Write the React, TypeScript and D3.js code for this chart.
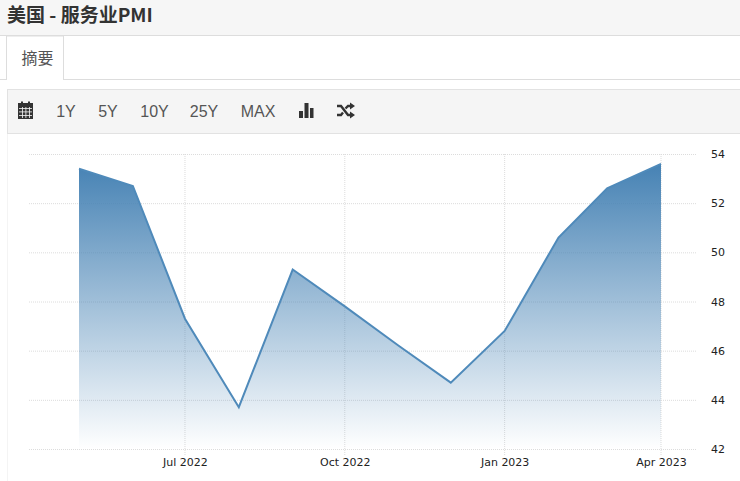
import * as d3 from 'd3';
import {useEffect, useRef} from "react";
import * as React from "react";

const months = ["2022-05", "2022-06", "2022-07", "2022-08", "2022-09", "2022-10", "2022-11", "2022-12", "2023-01", "2023-02", "2023-03", "2023-04"];
const pmiValues = [53.4, 52.7, 47.3, 43.7, 49.3, 47.8, 46.2, 44.7, 46.8, 50.6, 52.6, 53.6];
const yTicks = [42, 44, 46, 48, 50, 52, 54];
const xTickMonths = ["2022-07", "2022-10", "2023-01", "2023-04"];
const rangeButtons = ["1Y", "5Y", "10Y", "25Y", "MAX"];
const rangeButtonX = [66, 108, 154.5, 204, 258];

const parseMonth = d3.utcParse("%Y-%m");
const formatMonth = d3.utcFormat("%b %Y");
const labelFont = "'Liberation Sans', Arial, sans-serif";
const cjkFont = "'Noto Sans CJK SC', sans-serif";
const axisFont = "'DejaVu Sans', Verdana, sans-serif";

export default function App() {
    const svgRef = useRef<SVGSVGElement | null>(null);

    useEffect(() => {
        const root = d3.select(svgRef.current);
        root.html("");

        const data = months.map((m, i) => ({ date: parseMonth(m)!, value: pmiValues[i] }));

        const xScale = d3.scaleUtc()
            .domain([data[0].date, data[data.length - 1].date])
            .range([79, 661]);
        const yScale = d3.scaleLinear().domain([42, 54]).range([449, 154]);

        // page header
        root.append("rect").attr("width", 740).attr("height", 481).attr("fill", "#fff");
        root.append("rect").attr("width", 740).attr("height", 35.5).attr("fill", "#f6f6f6");
        root.append("line").attr("x1", 0).attr("x2", 740).attr("y1", 35.5).attr("y2", 35.5).attr("stroke", "#ddd");
        root.append("text").attr("x", 7).attr("y", 22).attr("fill", "#333")
            .attr("font-family", cjkFont).attr("font-size", 19).attr("font-weight", 700)
            .text("美国 - 服务业PMI");

        // tab
        root.append("line").attr("x1", 0).attr("x2", 740).attr("y1", 79.5).attr("y2", 79.5).attr("stroke", "#ddd");
        root.append("path").attr("d", "M6.5,80V36H63.5V80").attr("fill", "#fff").attr("stroke", "#ddd");
        root.append("rect").attr("x", 7).attr("y", 78).attr("width", 56).attr("height", 3).attr("fill", "#fff");
        root.append("text").attr("x", 37.5).attr("y", 64).attr("text-anchor", "middle").attr("fill", "#555")
            .attr("font-family", cjkFont).attr("font-size", 16).text("摘要");

        // toolbar
        root.append("rect").attr("x", 7.5).attr("y", 89.5).attr("width", 740).attr("height", 44)
            .attr("fill", "#f5f5f5").attr("stroke", "#e2e2e2");
        root.selectAll(".range").data(rangeButtons).enter().append("text")
            .attr("class", "range")
            .attr("x", (_, i) => rangeButtonX[i]).attr("y", 117)
            .attr("text-anchor", "middle").attr("fill", "#555")
            .attr("font-family", labelFont).attr("font-size", 16)
            .text(d => d);

        const icons = root.append("g").attr("fill", "#333");
        // calendar
        icons.append("path").attr("d", "M18,105h15v14h-15z M18,103h15v2h-15z M21,101.500h2v2h-2z M28,101.500h2v2h-2z");
        [108, 111.500, 115].forEach(y => {
            icons.append("rect").attr("x", 19).attr("y", y).attr("width", 13).attr("height", 0.8).attr("fill", "#f5f5f5");
        });
        [22, 25.500, 29].forEach(x => {
            icons.append("rect").attr("x", x).attr("y", 107).attr("width", 0.8).attr("height", 11).attr("fill", "#f5f5f5");
        });
        // bar icon
        icons.append("path").attr("d", "M299,111h4v7h-4z M304.500,103h4v15h-4z M310,108h3.500v10h-3.500z");
        // shuffle icon
        icons.append("path")
            .attr("d", "M337,106h4l7,9h3 M337,115h4l2,-2.500 M345.500,108.500l2.500,-2.500h3")
            .attr("fill", "none").attr("stroke", "#333").attr("stroke-width", 2.4);
        icons.append("path").attr("d", "M350,102.500l5,3.500l-5,3.500z M350,111.500l5,3.500l-5,3.500z");

        // chart frame edge
        root.append("line").attr("x1", 7.5).attr("x2", 7.5).attr("y1", 134).attr("y2", 481).attr("stroke", "#f4f4f4");

        const defs = root.append("defs");
        const gradient = defs.append("linearGradient").attr("id", "pmiFill")
            .attr("gradientUnits", "userSpaceOnUse")
            .attr("x1", 0).attr("x2", 0).attr("y1", yScale(53.6)).attr("y2", yScale(42));
        gradient.append("stop").attr("offset", "0%").attr("stop-color", "#4682b4");
        gradient.append("stop").attr("offset", "100%").attr("stop-color", "#4682b4").attr("stop-opacity", 0);

        // gridlines
        const gridY = d3.axisRight(yScale).tickValues(yTicks).tickSize(0).tickFormat(() => "");
        const yGrid = root.append("g").call(gridY);
        yGrid.select(".domain").remove();
        yGrid.selectAll(".tick line")
            .attr("x1", 29).attr("x2", 697)
            .attr("stroke", "#dcdcdc").attr("stroke-dasharray", "1,1");

        const xTickDates = xTickMonths.map(m => parseMonth(m)!);
        const xGrid = root.append("g");
        xGrid.selectAll("line").data(xTickDates).enter().append("line")
            .attr("x1", d => xScale(d)).attr("x2", d => xScale(d))
            .attr("y1", 154).attr("y2", 455)
            .attr("stroke", "#dcdcdc").attr("stroke-dasharray", "1,1");

        // area and line
        const area = d3.area<{date: Date, value: number}>()
            .x(d => xScale(d.date)).y0(yScale(42)).y1(d => yScale(d.value));
        const line = d3.line<{date: Date, value: number}>()
            .x(d => xScale(d.date)).y(d => yScale(d.value));

        root.append("path").datum(data).attr("d", area).attr("fill", "url(#pmiFill)");
        root.append("path").datum(data).attr("d", line)
            .attr("fill", "none").attr("stroke", "#4f8aba").attr("stroke-width", 2);

        // axes
        const yAxis = root.append("g")
            .attr("transform", "translate(711,0)")
            .call(d3.axisRight(yScale).tickValues(yTicks).tickSize(0).tickPadding(0));
        yAxis.select(".domain").remove();
        yAxis.selectAll("text")
            .attr("font-family", axisFont).attr("font-size", 11).attr("fill", "#222");

        const xAxis = root.append("g")
            .attr("transform", "translate(0,455)")
            .call(d3.axisBottom(xScale).tickValues(xTickDates).tickSize(0).tickPadding(3)
                .tickFormat(d => formatMonth(d as Date)));
        xAxis.select(".domain").remove();
        xAxis.selectAll("text")
            .attr("font-family", axisFont).attr("font-size", 11).attr("fill", "#222");
    }, []);

    return <svg ref={svgRef} width={740} height={481}
                style={{position: "absolute", left: 0, top: 0, display: "block"}}></svg>;
}
